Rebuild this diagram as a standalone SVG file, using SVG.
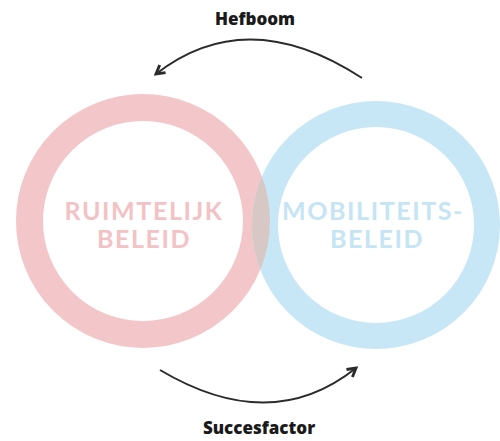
<svg xmlns="http://www.w3.org/2000/svg" width="500" height="441" viewBox="0 0 500 441">
<style>
.lbl{font-family:"Open Sans","Liberation Sans",sans-serif;font-weight:800;fill:#1a1a1a;text-anchor:middle;font-size:17px}
.big{font-family:"Lato","Open Sans","Liberation Sans",sans-serif;font-weight:bold;font-size:25px;text-anchor:middle;letter-spacing:1.6px}
.conn{fill:none;stroke:#2b2b2b;stroke-width:2}
</style>
<defs>
<marker id="arr" viewBox="0 0 10 10" refX="8" refY="5" markerWidth="12" markerHeight="12" markerUnits="userSpaceOnUse" orient="auto">
<path d="M1,1 L8,5 L1,9" fill="none" stroke="#2b2b2b" stroke-width="2.4" stroke-linejoin="miter"/>
</marker>
<clipPath id="rightRing">
<path clip-rule="evenodd" d="M376,101 a124,124 0 1,0 0.01,0 Z M376,127 a98,98 0 1,1 -0.01,0 Z"/>
</clipPath>
</defs>
<g id="ruimtelijk">
<circle cx="143" cy="221" r="113.5" fill="none" stroke="#f3c7c9" stroke-width="27"/>
<text class="big" x="144" y="220" fill="#f2c2c5">RUIMTELIJK</text>
<text class="big" x="144" y="248" fill="#f2c2c5">BELEID</text>
</g>
<g id="mobiliteit">
<circle cx="376" cy="225" r="111" fill="none" stroke="#c8e7f6" stroke-width="26"/>
<text class="big" x="373" y="220" fill="#c5e4f4">MOBILITEITS-</text>
<text class="big" x="377" y="248" fill="#c5e4f4">BELEID</text>
</g>
<g id="overlap" clip-path="url(#rightRing)">
<circle cx="143" cy="221" r="113.5" fill="none" stroke="#d8c8c5" stroke-width="27"/>
</g>
<g id="connectors">
<path class="conn" d="M362,78 Q247,3 156,74" marker-end="url(#arr)"/>
<path class="conn" d="M160,370 Q271,436 356,368" marker-end="url(#arr)"/>
</g>
<text class="lbl" x="255" y="25">Hefboom</text>
<text class="lbl" x="259" y="434">Succesfactor</text>
</svg>
